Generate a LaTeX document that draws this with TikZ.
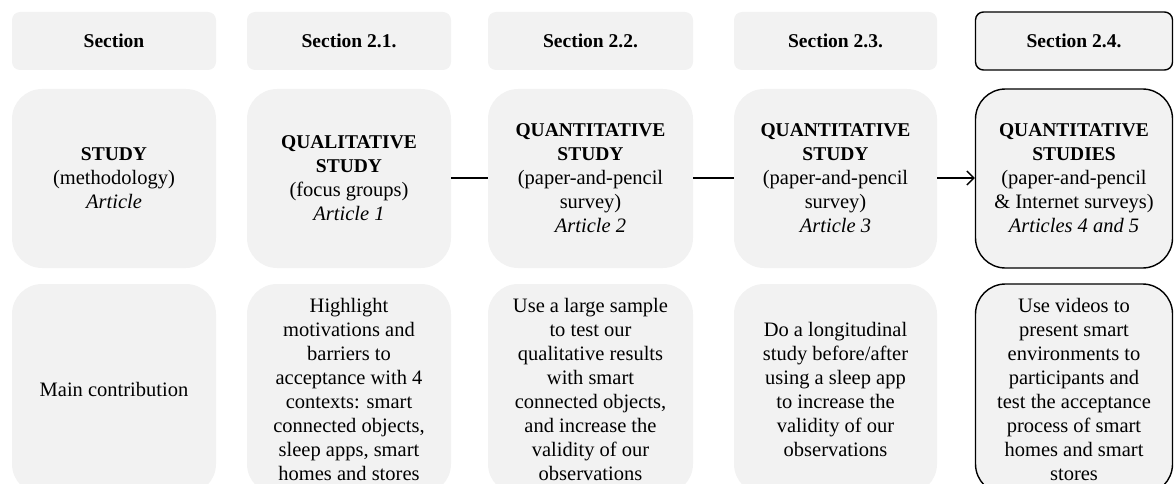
\documentclass[tikz,border=0pt]{standalone}
\usepackage{fontspec}
\setmainfont{Liberation Serif}
\usetikzlibrary{arrows.meta}
\definecolor{boxgray}{HTML}{F2F2F2}
% bold heading words inside the study boxes
\newcommand{\hdword}[1]{{\fontsize{19.5}{24}\selectfont\bfseries #1}}

\begin{document}
\begin{tikzpicture}[x=1pt,y=-1pt,
  cell/.style={fill=boxgray, draw=none, align=center, inner sep=0pt,
    font=\fontsize{20.5}{24}\selectfont},
  head/.style={cell, rounded corners=8pt, minimum height=58pt,
    font=\fontsize{19.5}{24}\selectfont\bfseries},
  study/.style={cell, rounded corners=30pt, minimum height=179pt},
  contrib/.style={cell, rounded corners=30pt, minimum height=210pt},
  outlined/.style={draw=black, line width=1.4pt},
  link/.style={line width=1.3pt}]

\useasboundingbox (0,0) rectangle (1174,484);
\clip (0,0) rectangle (1174,484);

% header row
\node[head, minimum width=204pt] (h1) at (114,41)    {Section};
\node[head, minimum width=204pt] (h2) at (349,41)    {Section 2.1.};
\node[head, minimum width=205pt] (h3) at (590.5,41)  {Section 2.2.};
\node[head, minimum width=203pt] (h4) at (835.5,41)  {Section 2.3.};
\node[head, outlined, minimum width=197pt] (h5) at (1074,41) {Section 2.4.};

% study row
\node[study, minimum width=204pt] (s1) at (114,178.5)
  {\hdword{STUDY}\\(methodology)\\\textit{Article}};
\node[study, minimum width=204pt] (s2) at (349,178.5)
  {\hdword{QUALITATIVE}\\\hdword{STUDY}\\(focus groups)\\\textit{Article 1}};
\node[study, minimum width=205pt] (s3) at (590.5,178.5)
  {\hdword{QUANTITATIVE}\\\hdword{STUDY}\\(paper-and-pencil\\survey)\\\textit{Article 2}};
\node[study, minimum width=203pt] (s4) at (835.5,178.5)
  {\hdword{QUANTITATIVE}\\\hdword{STUDY}\\(paper-and-pencil\\survey)\\\textit{Article 3}};
\node[study, outlined, minimum width=197pt] (s5) at (1074,178.5)
  {\hdword{QUANTITATIVE}\\\hdword{STUDIES}\\(paper-and-pencil\\\& Internet surveys)\\\textit{Articles 4 and 5}};

% contribution row
\node[contrib, minimum width=204pt] (c1) at (114,389) {Main contribution};
\node[contrib, minimum width=204pt] (c2) at (349,389)
  {Highlight\\motivations and\\barriers to\\acceptance with 4\\contexts: smart\\connected objects,\\sleep apps, smart\\homes and stores};
\node[contrib, minimum width=205pt] (c3) at (590.5,389)
  {Use a large sample\\to test our\\qualitative results\\with smart\\connected objects,\\and increase the\\validity of our\\observations};
\node[contrib, minimum width=203pt] (c4) at (835.5,389)
  {Do a longitudinal\\study before/after\\using a sleep app\\to increase the\\validity of our\\observations};
\node[contrib, outlined, minimum width=197pt] (c5) at (1074,389)
  {Use videos to\\present smart\\environments to\\participants and\\test the acceptance\\process of smart\\homes and smart\\stores};

% links between studies
\draw[link] (s2.east |- 0,178) -- (s3.west |- 0,178);
\draw[link] (s3.east |- 0,178) -- (s4.west |- 0,178);
\draw[link, -{Straight Barb[length=7pt,width=14pt]}] (s4.east |- 0,178) -- (s5.west |- 0,178);
\end{tikzpicture}
\end{document}
